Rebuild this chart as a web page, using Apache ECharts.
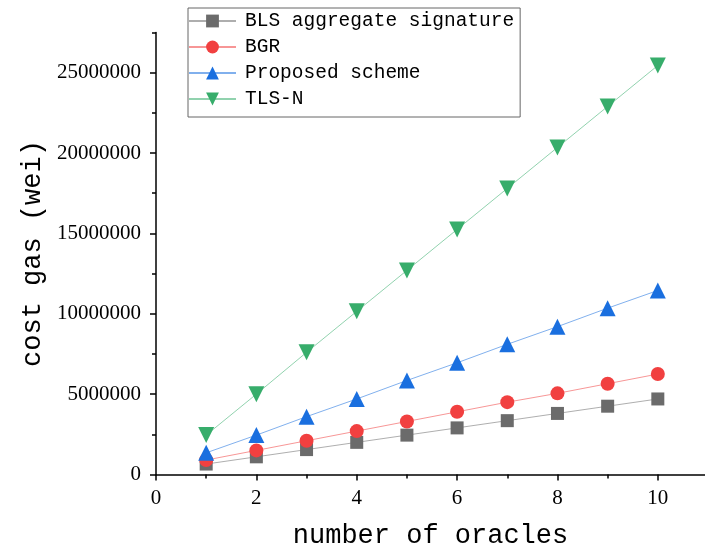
<!DOCTYPE html>
<html>
<head>
<meta charset="utf-8">
<script src="https://cdn.jsdelivr.net/npm/echarts@6/dist/echarts.min.js"></script>
<style>html,body{margin:0;padding:0;background:#fff}#c{width:705px;height:549px}</style>
</head>
<body>
<div id="c"></div>
<script>
var oracles = [1, 2, 3, 4, 5, 6, 7, 8, 9, 10];
var blsValues = [650000, 1100000, 1550000, 2000000, 2450000, 2900000, 3350000, 3800000, 4250000, 4700000];
var bgrValues = [900000, 1500000, 2100000, 2700000, 3300000, 3900000, 4500000, 5050000, 5650000, 6250000];
var proposedValues = [1350000, 2450000, 3600000, 4700000, 5850000, 6950000, 8100000, 9200000, 10350000, 11450000];
var tlsnValues = [2450000, 5000000, 7600000, 10150000, 12700000, 15250000, 17800000, 20350000, 22900000, 25450000];
var xMajorTicks = [0, 2, 4, 6, 8, 10];
var xMinorTicks = [1, 3, 5, 7, 9];
var yMajorTicks = [0, 5000000, 10000000, 15000000, 20000000, 25000000];
var yMinorTicks = [2500000, 7500000, 12500000, 17500000, 22500000, 27500000];
var seriesNames = ['BLS aggregate signature', 'BGR', 'Proposed scheme', 'TLS-N'];
var seriesColors = ['#6b6b6b', '#F14040', '#1A6FDF', '#37AD6B'];

function pairs(vals) { return oracles.map(function (x, i) { return [x, vals[i]]; }); }

var chart = echarts.init(document.getElementById('c'));
var axisFont = { fontFamily: 'Liberation Serif', fontSize: 21, color: '#000' };
var xMax = 10.94, yMax = 27500000;

function mkSeries(name, vals, color, symbol, size) {
  return {
    name: name, type: 'line', data: pairs(vals),
    symbol: symbol, symbolSize: size, showSymbol: true,
    itemStyle: { color: color, opacity: 1 },
    lineStyle: { color: color, width: 1, opacity: 0.55 },
    emphasis: { disabled: true }, animation: false, z: 3
  };
}

chart.setOption({
  animation: false,
  grid: { left: 156, right: 0, top: 32.5, bottom: 74.5, containLabel: false, outerBoundsMode: 'none' },
  legend: {
    orient: 'vertical', left: 188, top: 8, width: 334,
    padding: [3, 6, 8, 0], itemGap: 6, itemWidth: 47, itemHeight: 16,
    borderColor: '#666', borderWidth: 1, backgroundColor: '#fff',
    textStyle: { fontFamily: 'Liberation Mono', fontSize: 19.5, color: '#000', lineHeight: 20, padding: [0, 0, 0, 4] },
    data: seriesNames
  },
  xAxis: [{
    type: 'value', min: 0, max: xMax,
    name: 'number of oracles', nameLocation: 'middle', nameGap: 48,
    nameTextStyle: { fontFamily: 'Liberation Mono', fontSize: 27, color: '#000' },
    axisLine: { lineStyle: { color: '#000', width: 1.5 } },
    axisTick: { customValues: xMajorTicks, length: 6, inside: false, lineStyle: { color: '#000', width: 1.5 } },
    axisLabel: Object.assign({ customValues: xMajorTicks, margin: 13 }, axisFont),
    splitLine: { show: false }
  }, {
    type: 'value', min: 0, max: xMax, position: 'bottom',
    axisLine: { show: false },
    axisTick: { customValues: xMinorTicks, length: 4, lineStyle: { color: '#000', width: 1.5 } },
    axisLabel: { show: false }, splitLine: { show: false }
  }],
  yAxis: [{
    type: 'value', min: 0, max: yMax,
    name: 'cost gas (wei)', nameLocation: 'middle', nameGap: 106,
    nameTextStyle: { fontFamily: 'Liberation Mono', fontSize: 27, color: '#000' },
    axisLine: { show: true, lineStyle: { color: '#000', width: 1.5 } },
    axisTick: { show: true, customValues: yMajorTicks, length: 6, lineStyle: { color: '#000', width: 1.5 } },
    axisLabel: Object.assign({ customValues: yMajorTicks, margin: 15, formatter: function (v) { return String(v); } }, axisFont),
    splitLine: { show: false }
  }, {
    type: 'value', min: 0, max: yMax, position: 'left', offset: 0,
    axisLine: { show: false },
    axisTick: { show: true, customValues: yMinorTicks, length: 4, lineStyle: { color: '#000', width: 1.5 } },
    axisLabel: { show: false }, splitLine: { show: false }
  }],
  series: [
    mkSeries(seriesNames[0], blsValues, seriesColors[0], 'rect', 13),
    mkSeries(seriesNames[1], bgrValues, seriesColors[1], 'circle', 14),
    mkSeries(seriesNames[2], proposedValues, seriesColors[2], 'triangle', 16),
    mkSeries(seriesNames[3], tlsnValues, seriesColors[3], 'path://M0,0 L10,0 L5,9 Z', 16)
  ]
});
</script>
</body>
</html>
